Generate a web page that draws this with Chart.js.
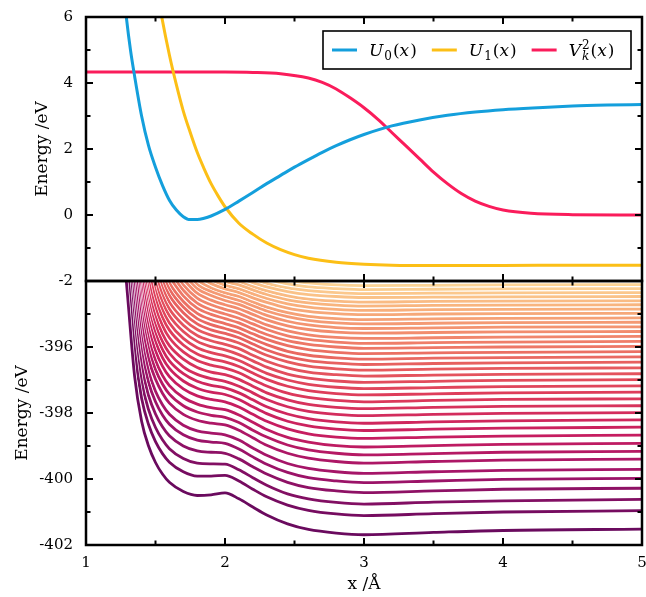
<!DOCTYPE html>
<html>
<head>
<meta charset="utf-8">
<script src="https://cdn.jsdelivr.net/npm/chart.js@4.4.1/dist/chart.umd.min.js"></script>
<style>
  html, body { margin: 0; padding: 0; background: #fff; }
  #wrap { position: relative; width: 646px; height: 597px; }
  canvas { position: absolute; left: 0; top: 0; }
</style>
</head>
<body>
<div id="wrap">
  <canvas id="bottomChart" width="646" height="597"></canvas>
  <canvas id="topChart" width="646" height="597"></canvas>
</div>
<script>
const FONT = "'DejaVu Serif', serif";

// top panel: diabatic potentials and coupling
const u0X = [1.25, 1.29, 1.32, 1.35, 1.4, 1.45, 1.5, 1.55, 1.6, 1.65, 1.7, 1.75, 1.8, 1.85, 1.9, 2.0, 2.1, 2.2, 2.3, 2.4, 2.5, 2.6, 2.7, 2.8, 2.9, 3.0, 3.2, 3.4, 3.6, 3.8, 4.0, 4.25, 4.5, 4.75, 5.0];
const u0Y = [7.6, 6.0, 5.0, 4.2, 3.0, 2.1, 1.45, 0.9, 0.45, 0.15, -0.05, -0.14, -0.14, -0.1, -0.03, 0.17, 0.42, 0.68, 0.95, 1.2, 1.45, 1.68, 1.9, 2.1, 2.28, 2.44, 2.7, 2.88, 3.02, 3.12, 3.19, 3.25, 3.3, 3.33, 3.35];

const u1X = [1.5, 1.545, 1.6, 1.65, 1.7, 1.75, 1.8, 1.85, 1.9, 1.95, 2.0, 2.1, 2.2, 2.3, 2.4, 2.5, 2.6, 2.8, 3.0, 3.2, 3.5, 4.0, 4.5, 5.0];
const u1Y = [7.1, 6.0, 4.85, 3.95, 3.15, 2.5, 1.9, 1.4, 0.95, 0.58, 0.25, -0.25, -0.58, -0.85, -1.05, -1.2, -1.31, -1.43, -1.49, -1.52, -1.53, -1.53, -1.52, -1.52];

const vkX = [1.0, 1.5, 2.0, 2.2, 2.4, 2.6, 2.7, 2.8, 2.9, 3.0, 3.1, 3.2, 3.3, 3.4, 3.5, 3.6, 3.7, 3.8, 3.9, 4.0, 4.2, 4.5, 5.0];
const vkY = [4.33, 4.33, 4.33, 4.32, 4.28, 4.15, 4.02, 3.82, 3.55, 3.25, 2.9, 2.5, 2.1, 1.7, 1.3, 0.95, 0.65, 0.42, 0.26, 0.15, 0.05, 0.01, 0.0];

const topYTicks = [-2, 0, 2, 4, 6];
const bottomYTicks = [-402, -400, -398, -396, -394];
const xTicks = [1, 2, 3, 4, 5];

// bottom panel: one row per level, sampled on xGrid
const xGrid = [1.25, 1.3, 1.35, 1.4, 1.45, 1.5, 1.55, 1.6, 1.7, 1.8, 1.9, 2.0, 2.1, 2.2, 2.3, 2.45, 2.6, 2.8, 3.0, 3.5, 4.0, 5.0];
const levelCurves = [
  [-392.0, -394.5, -396.9, -398.25, -399.0, -399.5, -399.85, -400.1, -400.38, -400.5, -400.48, -400.42, -400.6, -400.85, -401.09, -401.36, -401.53, -401.64, -401.69, -401.62, -401.56, -401.52],
  [null, -393.71, -396.12, -397.55, -398.35, -398.87, -399.23, -399.49, -399.78, -399.91, -399.91, -399.89, -400.06, -400.31, -400.54, -400.79, -400.95, -401.06, -401.11, -401.05, -401.0, -400.96],
  [null, -393.12, -395.54, -397.05, -397.9, -398.44, -398.81, -399.08, -399.38, -399.52, -399.54, -399.55, -399.72, -399.96, -400.19, -400.45, -400.6, -400.71, -400.76, -400.7, -400.66, -400.62],
  [null, -392.55, -394.97, -396.58, -397.47, -398.03, -398.42, -398.69, -399.0, -399.15, -399.19, -399.22, -399.39, -399.63, -399.85, -400.1, -400.26, -400.36, -400.41, -400.36, -400.31, -400.28],
  [null, -392.02, -394.45, -396.14, -397.08, -397.66, -398.06, -398.34, -398.66, -398.82, -398.88, -398.92, -399.09, -399.33, -399.55, -399.8, -399.96, -400.06, -400.11, -400.06, -400.01, -399.98],
  [null, null, -393.98, -395.75, -396.74, -397.34, -397.75, -398.04, -398.37, -398.54, -398.61, -398.66, -398.82, -399.06, -399.28, -399.53, -399.68, -399.78, -399.83, -399.78, -399.74, -399.71],
  [null, null, -393.47, -395.32, -396.36, -396.98, -397.4, -397.7, -398.04, -398.22, -398.31, -398.36, -398.52, -398.75, -398.98, -399.22, -399.37, -399.47, -399.52, -399.47, -399.43, -399.4],
  [null, null, -393.03, -394.96, -396.05, -396.69, -397.12, -397.43, -397.78, -397.97, -398.07, -398.13, -398.29, -398.52, -398.73, -398.97, -399.12, -399.22, -399.27, -399.23, -399.19, -399.16],
  [null, null, -392.59, -394.62, -395.75, -396.41, -396.86, -397.17, -397.53, -397.73, -397.84, -397.9, -398.06, -398.28, -398.5, -398.74, -398.88, -398.99, -399.03, -398.99, -398.95, -398.92],
  [null, null, -392.15, -394.26, -395.44, -396.12, -396.58, -396.9, -397.27, -397.48, -397.59, -397.66, -397.82, -398.04, -398.25, -398.48, -398.63, -398.73, -398.77, -398.73, -398.7, -398.67],
  [null, null, null, -393.92, -395.15, -395.85, -396.32, -396.65, -397.03, -397.25, -397.37, -397.44, -397.59, -397.81, -398.02, -398.25, -398.39, -398.49, -398.53, -398.49, -398.46, -398.43],
  [null, null, null, -393.6, -394.88, -395.6, -396.08, -396.42, -396.81, -397.04, -397.16, -397.24, -397.39, -397.6, -397.81, -398.03, -398.17, -398.27, -398.31, -398.27, -398.24, -398.21],
  [null, null, null, -393.28, -394.61, -395.35, -395.84, -396.19, -396.6, -396.83, -396.96, -397.04, -397.19, -397.39, -397.59, -397.81, -397.95, -398.04, -398.08, -398.04, -398.01, -397.99],
  [null, null, null, -392.92, -394.32, -395.09, -395.6, -395.96, -396.37, -396.62, -396.76, -396.84, -396.98, -397.19, -397.39, -397.6, -397.74, -397.83, -397.87, -397.83, -397.8, -397.78],
  [null, null, null, -392.52, -394.0, -394.82, -395.35, -395.72, -396.15, -396.41, -396.55, -396.64, -396.78, -396.99, -397.18, -397.4, -397.53, -397.62, -397.66, -397.62, -397.59, -397.57],
  [null, null, null, null, -393.69, -394.56, -395.11, -395.49, -395.94, -396.21, -396.36, -396.45, -396.59, -396.79, -396.98, -397.19, -397.32, -397.41, -397.45, -397.42, -397.39, -397.37],
  [null, null, null, null, -393.39, -394.31, -394.88, -395.27, -395.74, -396.02, -396.17, -396.27, -396.41, -396.61, -396.8, -397.0, -397.13, -397.22, -397.26, -397.23, -397.2, -397.18],
  [null, null, null, null, -393.09, -394.06, -394.65, -395.05, -395.53, -395.83, -395.99, -396.09, -396.23, -396.42, -396.61, -396.82, -396.94, -397.03, -397.07, -397.04, -397.01, -396.99],
  [null, null, null, null, null, -393.82, -394.43, -394.85, -395.34, -395.65, -395.81, -395.92, -396.05, -396.25, -396.43, -396.63, -396.76, -396.84, -396.88, -396.85, -396.83, -396.81],
  [null, null, null, null, null, -393.58, -394.21, -394.64, -395.15, -395.47, -395.64, -395.75, -395.88, -396.07, -396.25, -396.45, -396.58, -396.66, -396.7, -396.67, -396.65, -396.63],
  [null, null, null, null, null, -393.35, -394.0, -394.44, -394.96, -395.3, -395.48, -395.59, -395.72, -395.91, -396.09, -396.29, -396.41, -396.49, -396.53, -396.5, -396.48, -396.46],
  [null, null, null, null, null, null, -393.8, -394.25, -394.79, -395.14, -395.32, -395.44, -395.57, -395.76, -395.93, -396.13, -396.25, -396.33, -396.37, -396.34, -396.32, -396.3],
  [null, null, null, null, null, null, -393.6, -394.06, -394.62, -394.98, -395.17, -395.29, -395.42, -395.6, -395.77, -395.96, -396.08, -396.16, -396.2, -396.18, -396.16, -396.14],
  [null, null, null, null, null, null, null, -393.88, -394.45, -394.82, -395.01, -395.14, -395.27, -395.45, -395.62, -395.81, -395.92, -396.0, -396.04, -396.02, -396.0, -395.98],
  [null, null, null, null, null, null, null, -393.7, -394.28, -394.67, -394.87, -395.0, -395.13, -395.3, -395.47, -395.66, -395.77, -395.85, -395.89, -395.87, -395.85, -395.83],
  [null, null, null, null, null, null, null, -393.52, -394.12, -394.52, -394.72, -394.86, -394.98, -395.16, -395.33, -395.51, -395.63, -395.71, -395.74, -395.72, -395.7, -395.68],
  [null, null, null, null, null, null, null, null, -393.95, -394.37, -394.58, -394.72, -394.84, -395.01, -395.18, -395.36, -395.47, -395.55, -395.58, -395.56, -395.54, -395.53],
  [null, null, null, null, null, null, null, null, -393.79, -394.23, -394.44, -394.59, -394.71, -394.88, -395.04, -395.22, -395.33, -395.41, -395.44, -395.42, -395.4, -395.39],
  [null, null, null, null, null, null, null, null, -393.64, -394.1, -394.32, -394.47, -394.59, -394.75, -394.91, -395.08, -395.19, -395.27, -395.3, -395.28, -395.26, -395.25],
  [null, null, null, null, null, null, null, null, null, -393.98, -394.21, -394.36, -394.47, -394.64, -394.79, -394.96, -395.07, -395.14, -395.17, -395.15, -395.13, -395.12],
  [null, null, null, null, null, null, null, null, null, -393.85, -394.08, -394.24, -394.35, -394.51, -394.65, -394.82, -394.92, -394.99, -395.02, -395.0, -394.99, -394.98],
  [null, null, null, null, null, null, null, null, null, null, -393.97, -394.13, -394.24, -394.39, -394.53, -394.69, -394.79, -394.86, -394.89, -394.87, -394.86, -394.85],
  [null, null, null, null, null, null, null, null, null, null, -393.86, -394.02, -394.12, -394.27, -394.41, -394.57, -394.66, -394.73, -394.76, -394.74, -394.73, -394.72],
  [null, null, null, null, null, null, null, null, null, null, null, -393.92, -394.02, -394.17, -394.3, -394.45, -394.55, -394.61, -394.64, -394.62, -394.61, -394.6],
  [null, null, null, null, null, null, null, null, null, null, null, null, -393.91, -394.05, -394.18, -394.32, -394.41, -394.47, -394.5, -394.49, -394.48, -394.47],
  [null, null, null, null, null, null, null, null, null, null, null, null, null, -393.94, -394.07, -394.21, -394.29, -394.35, -394.38, -394.37, -394.36, -394.35],
  [null, null, null, null, null, null, null, null, null, null, null, null, null, null, -393.95, -394.09, -394.18, -394.23, -394.26, -394.25, -394.24, -394.23],
  [null, null, null, null, null, null, null, null, null, null, null, null, null, null, null, -393.98, -394.06, -394.12, -394.14, -394.13, -394.12, -394.11]
];

const pts = (xs, ys) => ys.map((y, i) => ({ x: xs[i], y: y }));

// colour ramp dark purple -> peach
const levelStops = [
  [0, [106, 10, 94]], [0.12, [160, 20, 105]], [0.25, [200, 30, 95]], [0.4, [222, 60, 90]],
  [0.55, [232, 100, 95]], [0.7, [242, 140, 110]], [0.85, [248, 178, 125]], [1, [252, 212, 150]]
];
function levelColor(t) {
  for (let i = 1; i < levelStops.length; i++) {
    const [t0, c0] = levelStops[i - 1];
    const [t1, c1] = levelStops[i];
    if (t <= t1) {
      const f = (t - t0) / (t1 - t0);
      return 'rgb(' + c0.map((c, j) => Math.round(c + f * (c1[j] - c))).join(',') + ')';
    }
  }
  return 'rgb(252,212,150)';
}

// thin white edge under every level line (separates the dense bundle)
const whiteEdge = {
  id: 'whiteEdge',
  beforeDatasetDraw(chart, args) {
    const line = args.meta.dataset;
    if (!line || !line.options) return;
    const a = chart.chartArea;
    const ctx = chart.ctx;
    const o = line.options;
    ctx.save();
    ctx.beginPath();
    ctx.rect(a.left, a.top, a.right - a.left, a.bottom - a.top);
    ctx.clip();
    line.options = Object.assign({}, o, { borderColor: '#fff', borderWidth: o.borderWidth + 1.3 });
    line.draw(ctx, a);
    line.options = o;
    ctx.restore();
  }
};

// frame + inward ticks like the original plot
const frameTicks = {
  id: 'frameTicks',
  afterDatasetsDraw(chart, args, opts) {
    const { ctx, chartArea: a } = chart;
    const xs = chart.scales.x, ys = chart.scales.y;
    const mids = arr => arr.slice(1).map((v, i) => (v + arr[i]) / 2);
    ctx.save();
    ctx.strokeStyle = '#000';
    ctx.lineWidth = 2;
    const seg = (x0, y0, x1, y1) => { ctx.beginPath(); ctx.moveTo(x0, y0); ctx.lineTo(x1, y1); ctx.stroke(); };
    [[opts.xTicks, 7], [mids(opts.xTicks), 4.5]].forEach(([vals, len]) => vals.forEach(v => {
      const px = xs.getPixelForValue(v);
      seg(px, a.top, px, a.top + len);
      seg(px, a.bottom, px, a.bottom - len);
    }));
    [[opts.yTicks, 7], [mids(opts.yTicks), 4.5]].forEach(([vals, len]) => vals.forEach(v => {
      const py = ys.getPixelForValue(v);
      seg(a.left, py, a.left + len, py);
      seg(a.right, py, a.right - len, py);
    }));
    ctx.lineWidth = 2.5;
    ctx.strokeRect(a.left, a.top, a.right - a.left, a.bottom - a.top);
    ctx.restore();
  }
};

// legend with math-style labels
const legendLabels = [
  [{ t: 'U', it: true }, { t: '0', sub: true }, { t: '(' }, { t: 'x', it: true }, { t: ')' }],
  [{ t: 'U', it: true }, { t: '1', sub: true }, { t: '(' }, { t: 'x', it: true }, { t: ')' }],
  [{ t: 'V', it: true }, { t: '2', sup: true, under: 'k' }, { t: '(' }, { t: 'x', it: true }, { t: ')' }]
];
function drawMath(ctx, x, y, parts) {
  parts.forEach(p => {
    if (p.sub || p.sup) {
      ctx.font = '12px ' + FONT;
      const dy = p.sub ? 4 : -7;
      ctx.fillText(p.t, x, y + dy);
      let w = ctx.measureText(p.t).width;
      if (p.under) {
        ctx.font = 'italic 12px ' + FONT;
        ctx.fillText(p.under, x, y + 4);
        w = Math.max(w, ctx.measureText(p.under).width);
      }
      x += w + 1;
    } else {
      ctx.font = (p.it ? 'italic ' : '') + '17px ' + FONT;
      ctx.fillText(p.t, x, y);
      x += ctx.measureText(p.t).width + (p.it ? 1 : 0);
    }
  });
  return x;
}
const mathLegend = {
  id: 'mathLegend',
  afterDraw(chart) {
    const { ctx, chartArea: a } = chart;
    const w = 308, h = 38;
    const left = a.right - 11 - w, top = a.top + 14;
    ctx.save();
    ctx.fillStyle = '#fff';
    ctx.fillRect(left, top, w, h);
    ctx.strokeStyle = '#000';
    ctx.lineWidth = 1.6;
    ctx.strokeRect(left, top, w, h);
    let x = left + 9;
    const cy = top + h / 2;
    chart.data.datasets.forEach((ds, i) => {
      ctx.strokeStyle = ds.borderColor;
      ctx.lineWidth = 3;
      ctx.beginPath(); ctx.moveTo(x, cy); ctx.lineTo(x + 25, cy); ctx.stroke();
      x += 37;
      ctx.fillStyle = '#000';
      ctx.textBaseline = 'alphabetic';
      x = drawMath(ctx, x, cy + 6, legendLabels[i]) + 15;
    });
    ctx.restore();
  }
};

Chart.defaults.color = '#000';
Chart.defaults.font.family = FONT;

const tickFont = { family: FONT, size: 15 };
const titleFont = { family: FONT, size: 17 };

new Chart(document.getElementById('topChart'), {
  type: 'line',
  data: {
    datasets: [
      { label: 'U0(x)', data: pts(u0X, u0Y), borderColor: '#149fdc' },
      { label: 'U1(x)', data: pts(u1X, u1Y), borderColor: '#fcbf16' },
      { label: 'Vk2(x)', data: pts(vkX, vkY), borderColor: '#fa1c5b' }
    ]
  },
  options: {
    responsive: false,
    animation: false,
    devicePixelRatio: 1,
    layout: { padding: { left: 0, top: 17, right: 4, bottom: 316 } },
    elements: {
      point: { radius: 0 },
      line: { borderWidth: 3, cubicInterpolationMode: 'monotone', fill: false }
    },
    scales: {
      x: { type: 'linear', min: 1, max: 5, display: false },
      y: {
        min: -2, max: 6,
        afterBuildTicks: s => { s.ticks = topYTicks.map(v => ({ value: v })); },
        afterFit: s => { s.width = 86; s.paddingTop = 0; s.paddingBottom = 0; },
        grid: { display: false, drawTicks: false },
        border: { display: false },
        ticks: { padding: 13, font: tickFont },
        title: { display: true, text: 'Energy /eV', font: titleFont, padding: { top: 32, bottom: 0 } }
      }
    },
    plugins: {
      legend: { display: false },
      tooltip: { enabled: false },
      frameTicks: { xTicks: xTicks, yTicks: topYTicks }
    }
  },
  plugins: [frameTicks, mathLegend]
});

new Chart(document.getElementById('bottomChart'), {
  type: 'line',
  data: {
    datasets: levelCurves.map((row, k) => ({
      label: 'level ' + (k + 1),
      data: pts(xGrid, row),
      borderColor: levelColor(k / (levelCurves.length - 1))
    }))
  },
  options: {
    responsive: false,
    animation: false,
    devicePixelRatio: 1,
    layout: { padding: { left: 0, top: 281, right: 4, bottom: 0 } },
    elements: {
      point: { radius: 0 },
      line: { borderWidth: 2.8, cubicInterpolationMode: 'monotone', fill: false }
    },
    scales: {
      x: {
        type: 'linear', min: 1, max: 5,
        afterBuildTicks: s => { s.ticks = xTicks.map(v => ({ value: v })); },
        afterFit: s => { s.height = 52; s.paddingLeft = 0; s.paddingRight = 0; },
        grid: { display: false, drawTicks: false },
        border: { display: false },
        ticks: { padding: 9, maxRotation: 0, font: tickFont },
        title: { display: true, text: 'x /Å', font: titleFont, padding: { top: 0, bottom: 2 } }
      },
      y: {
        min: -402, max: -394,
        afterBuildTicks: s => { s.ticks = bottomYTicks.map(v => ({ value: v })); },
        afterFit: s => { s.width = 86; s.paddingTop = 0; s.paddingBottom = 0; },
        grid: { display: false, drawTicks: false },
        border: { display: false },
        ticks: { padding: 13, font: tickFont, callback: v => (v === -394 ? '' : String(v)) },
        title: { display: true, text: 'Energy /eV', font: titleFont, padding: { top: 12, bottom: 0 } }
      }
    },
    plugins: {
      legend: { display: false },
      tooltip: { enabled: false },
      frameTicks: { xTicks: xTicks, yTicks: bottomYTicks }
    }
  },
  plugins: [whiteEdge, frameTicks]
});
</script>
</body>
</html>
